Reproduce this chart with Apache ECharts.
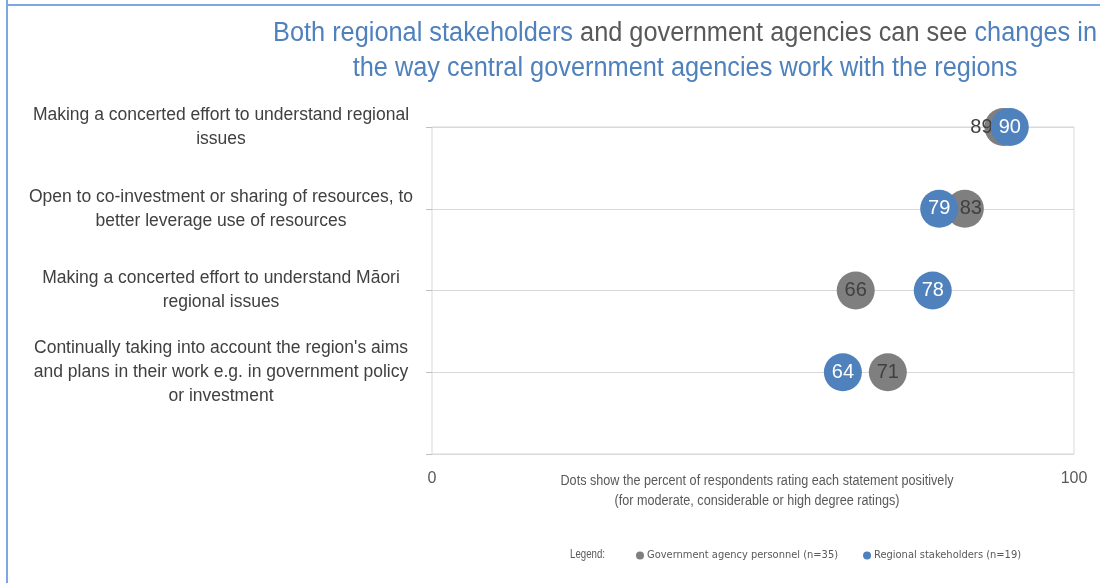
<!DOCTYPE html>
<html>
<head>
<meta charset="utf-8">
<script src="https://cdn.jsdelivr.net/npm/echarts@6/dist/echarts.min.js"></script>
<style>
  html, body { margin: 0; padding: 0; background: #fff; }
  #chart { width: 1100px; height: 583px; }
</style>
</head>
<body>
<div id="chart"></div>
<script>
  // statements, top to bottom
  var categories = [
    'Making a concerted effort to understand regional\nissues',
    'Open to co-investment or sharing of resources, to\nbetter leverage use of resources',
    'Making a concerted effort to understand M\u0101ori\nregional issues',
    'Continually taking into account the region\'s aims\nand plans in their work e.g. in government policy\nor investment'
  ];
  var govValues = [89, 83, 66, 71];
  var regValues = [90, 79, 78, 64];
  var xTicks = [0, 100];
  var seriesNames = ['Government agency personnel (n=35)', 'Regional stakeholders (n=19)'];

  var GREY = '#7f7f7f';
  var BLUE = '#4f81bd';
  var TEXT = '#595959';
  var SANS = '"Liberation Sans", Arial, sans-serif';

  // no narrow font installed, so squeeze regular Liberation Sans to a target width
  var ctx = document.createElement('canvas').getContext('2d');
  function squeeze(text, px, target) {
    ctx.font = px + 'px "Liberation Sans"';
    return target / ctx.measureText(text).width;
  }
  var titleLine1 = 'Both regional stakeholders and government agencies can see changes in';
  var noteLine1 = 'Dots show the percent of respondents rating each statement positively';
  var titleScale = squeeze(titleLine1, 27, 824);
  var noteScale = squeeze(noteLine1, 14, 393);
  var legendWordScale = squeeze('Legend:', 12, 35);

  // row i sits at y = categories.length - i
  function toPoints(vals) {
    return vals.map(function (v, i) { return [v, categories.length - i]; });
  }

  var chart = echarts.init(document.getElementById('chart'));

  var govData = toPoints(govValues).map(function (p, i) {
    var d = { value: p };
    // overlapping pairs: grey labels nudged off the blue dot
    if (i === 0) d.label = { offset: [-22, 0] };
    if (i === 1) d.label = { offset: [6, 0] };
    return d;
  });

  chart.setOption({
    animation: false,
    graphic: [
      { type: 'line', shape: { x1: 7, y1: 0, x2: 7, y2: 583 }, style: { stroke: '#7ea6e0', lineWidth: 2 } },
      { type: 'line', shape: { x1: 6, y1: 5, x2: 1100, y2: 5 }, style: { stroke: '#7ea6e0', lineWidth: 2 } },
      {
        type: 'text', x: 685, y: 16, scaleX: titleScale,
        style: {
          text: '{b|Both regional stakeholders }{g|and government agencies can see }{b|changes in}\n{b|the way central government agencies work with the regions}',
          align: 'center',
          rich: {
            b: { fill: BLUE, fontSize: 27, fontFamily: SANS, lineHeight: 35 },
            g: { fill: TEXT, fontSize: 27, fontFamily: SANS, lineHeight: 35 }
          }
        }
      },
      {
        type: 'text', x: 757, y: 471, scaleX: noteScale,
        style: {
          text: noteLine1 + '\n(for moderate, considerable or high degree ratings)',
          align: 'center', fill: TEXT, fontSize: 14, fontFamily: SANS, lineHeight: 20
        }
      },
      {
        type: 'text', x: 570, y: 549, scaleX: legendWordScale,
        style: { text: 'Legend:', fill: TEXT, fontSize: 12, fontFamily: SANS }
      }
    ],
    legend: {
      left: 631, top: 545,
      icon: 'circle', itemWidth: 8, itemHeight: 8, itemGap: 25,
      textStyle: { color: TEXT, fontSize: 11, fontFamily: '"DejaVu Sans Condensed", sans-serif', padding: [0, 0, 0, -2] },
      data: seriesNames
    },
    grid: {
      left: 432, right: 26, top: 127, bottom: 129,
      show: true, borderColor: '#d9d9d9', borderWidth: 1
    },
    xAxis: {
      type: 'value', min: xTicks[0], max: xTicks[1], interval: 100,
      axisLine: { show: false }, axisTick: { show: false }, splitLine: { show: false },
      axisLabel: { color: TEXT, fontSize: 16, fontFamily: SANS, margin: 17 }
    },
    yAxis: {
      type: 'value', min: 0, max: categories.length, interval: 1,
      axisLine: { show: false },
      axisTick: { show: true, length: 6, lineStyle: { color: '#bfbfbf' } },
      splitLine: { show: true, lineStyle: { color: '#d9d9d9' } },
      axisLabel: {
        align: 'center', margin: 211,
        color: '#404040', fontSize: 17.5, fontFamily: SANS, lineHeight: 24,
        formatter: function (v) {
          var i = categories.length - v;
          return (v > 0 && categories[i]) ? categories[i] : '';
        }
      }
    },
    series: [
      {
        name: seriesNames[0], type: 'scatter', symbolSize: 38,
        itemStyle: { color: GREY, opacity: 1 },
        label: { show: true, position: 'inside', color: '#404040', fontSize: 20, fontFamily: SANS,
          formatter: function (p) { return p.value[0]; } },
        data: govData, z: 2
      },
      {
        name: seriesNames[1], type: 'scatter', symbolSize: 38,
        itemStyle: { color: BLUE, opacity: 1 },
        label: { show: true, position: 'inside', color: '#ffffff', fontSize: 20, fontFamily: SANS,
          formatter: function (p) { return p.value[0]; } },
        data: toPoints(regValues), z: 3
      }
    ]
  });
</script>
</body>
</html>
